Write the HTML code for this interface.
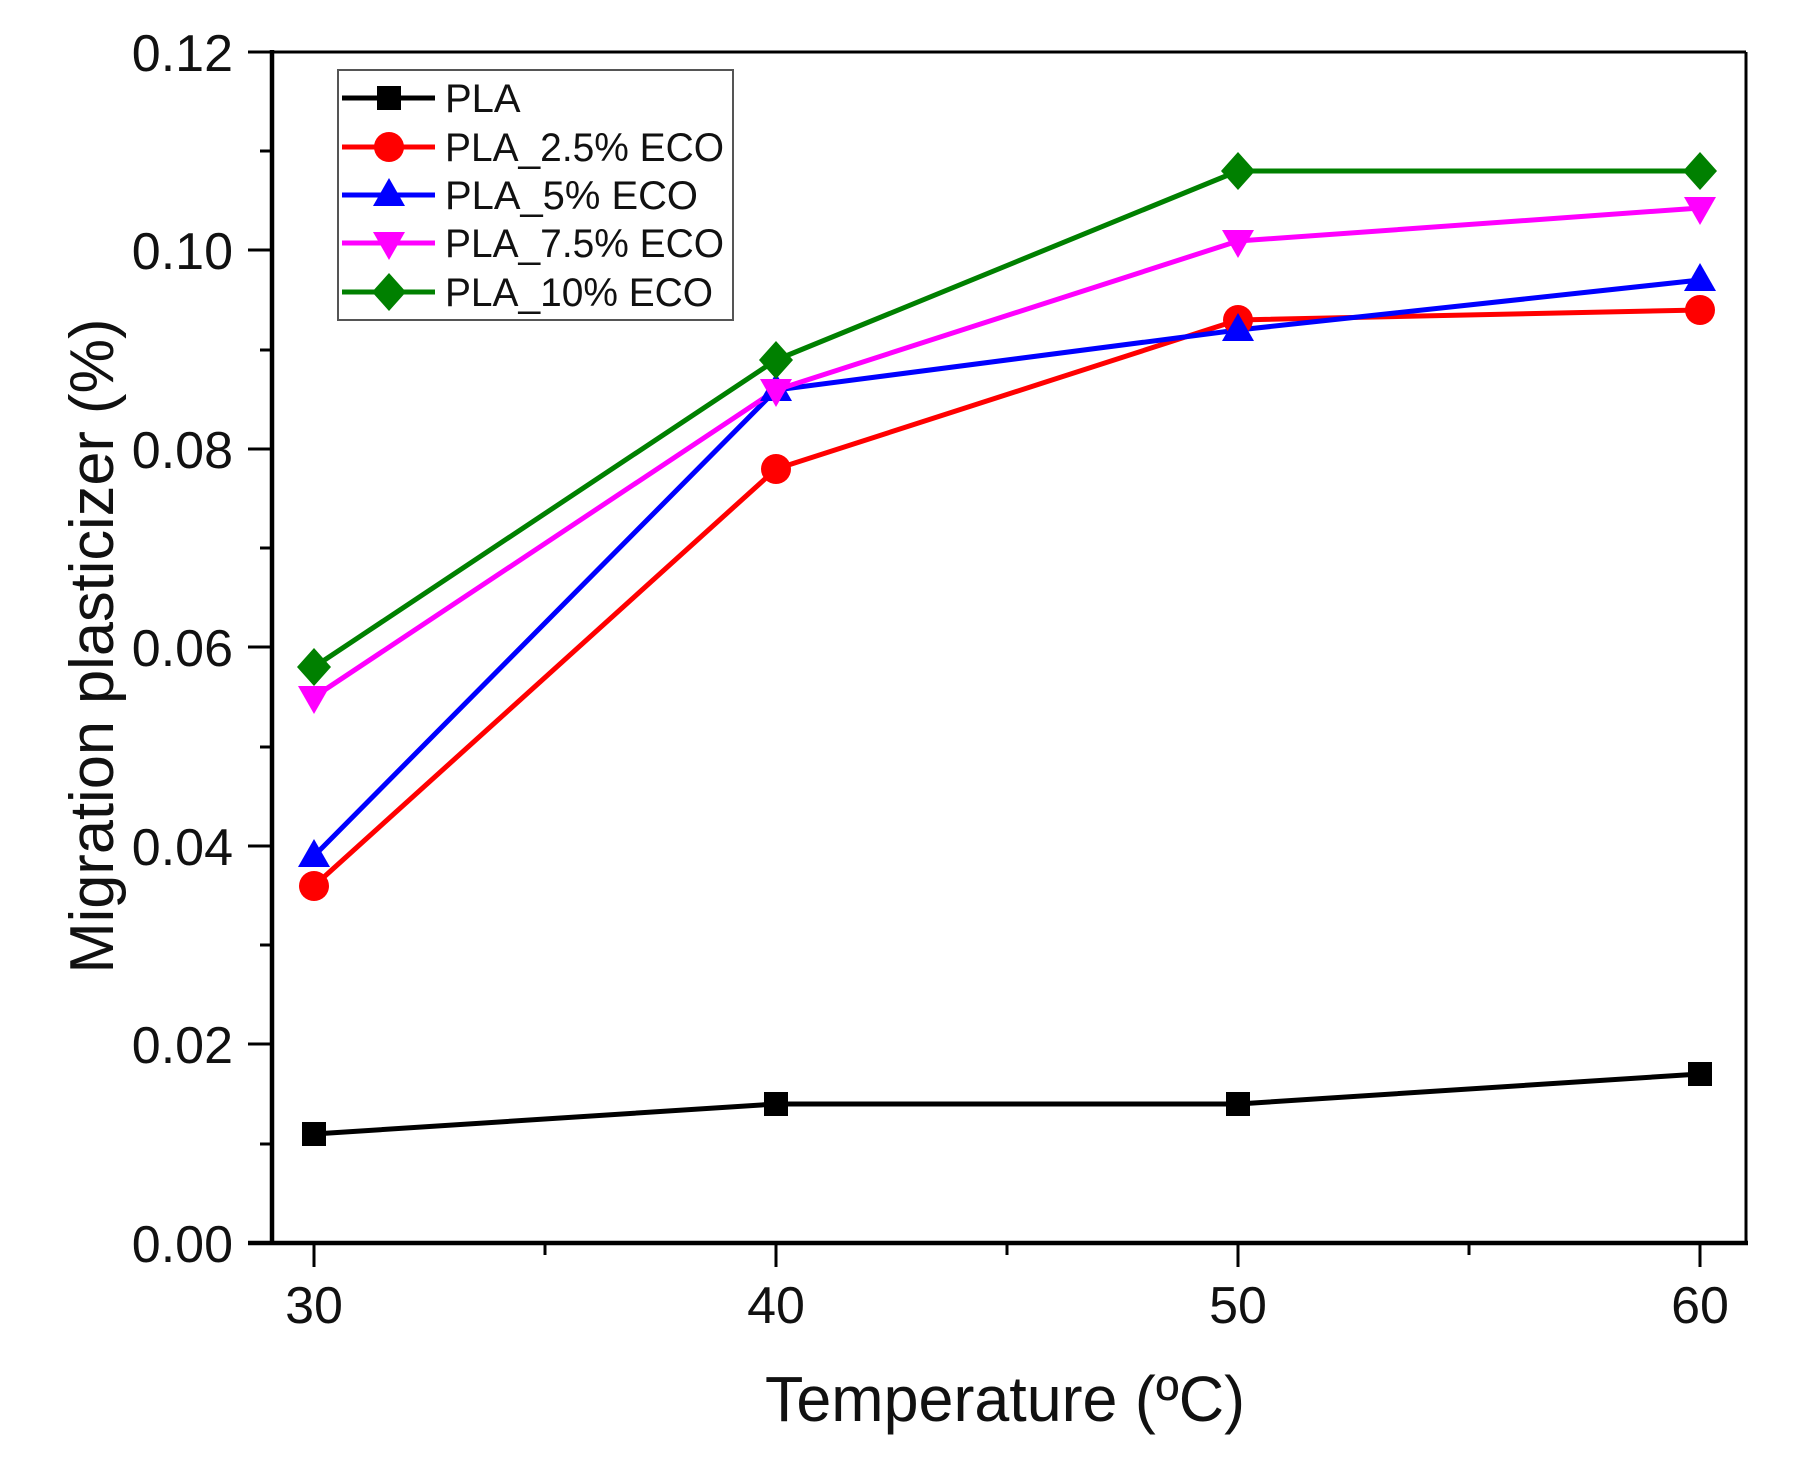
<!DOCTYPE html>
<html><head><meta charset="utf-8"><style>
html,body{margin:0;padding:0;background:#fff;}
svg{display:block;font-family:"Liberation Sans",Arial,sans-serif;}
</style></head><body>
<svg width="1819" height="1463" viewBox="0 0 1819 1463" xmlns="http://www.w3.org/2000/svg">
<rect width="1819" height="1463" fill="#fff"/>
<defs>
<rect id="sq" x="-12" y="-12" width="24" height="24" fill="#000"/>
<circle id="ci" r="15" fill="#f00"/>
<polygon id="tu" points="0,-17 16,11 -16,11" fill="#00f"/>
<polygon id="td" points="0,17 16,-11 -16,-11" fill="#f0f"/>
<polygon id="di" points="0,-19 17,0 0,19 -17,0" fill="#008000"/>
</defs>
<line x1="270" y1="52" x2="1746" y2="52" stroke="#000" stroke-width="3"/>
<line x1="1746" y1="52" x2="1746" y2="1243" stroke="#000" stroke-width="3"/>
<line x1="272" y1="50" x2="272" y2="1245" stroke="#000" stroke-width="4.5"/>
<line x1="248" y1="1243" x2="1748" y2="1243" stroke="#000" stroke-width="4.5"/>
<g stroke="#000" stroke-width="3">
<line x1="248" y1="52" x2="272" y2="52"/><line x1="260" y1="151" x2="272" y2="151"/>
<line x1="248" y1="250" x2="272" y2="250"/><line x1="260" y1="350" x2="272" y2="350"/>
<line x1="248" y1="449" x2="272" y2="449"/><line x1="260" y1="548" x2="272" y2="548"/>
<line x1="248" y1="647" x2="272" y2="647"/><line x1="260" y1="747" x2="272" y2="747"/>
<line x1="248" y1="846" x2="272" y2="846"/><line x1="260" y1="945" x2="272" y2="945"/>
<line x1="248" y1="1044" x2="272" y2="1044"/><line x1="260" y1="1144" x2="272" y2="1144"/>
<line x1="314" y1="1243" x2="314" y2="1267"/><line x1="545" y1="1243" x2="545" y2="1255"/>
<line x1="776" y1="1243" x2="776" y2="1267"/><line x1="1007" y1="1243" x2="1007" y2="1255"/>
<line x1="1238" y1="1243" x2="1238" y2="1267"/><line x1="1469" y1="1243" x2="1469" y2="1255"/>
<line x1="1700" y1="1243" x2="1700" y2="1267"/>
</g>
<g font-size="52" fill="#111" text-anchor="end">
<text x="233" y="71">0.12</text><text x="233" y="269">0.10</text>
<text x="233" y="468">0.08</text><text x="233" y="666">0.06</text>
<text x="233" y="865">0.04</text><text x="233" y="1063">0.02</text>
<text x="233" y="1262">0.00</text>
</g>
<g font-size="52" fill="#111" text-anchor="middle">
<text x="314" y="1323">30</text><text x="776" y="1323">40</text>
<text x="1238" y="1323">50</text><text x="1700" y="1323">60</text>
</g>
<text x="1005" y="1421" font-size="64" text-anchor="middle" textLength="480" lengthAdjust="spacingAndGlyphs" fill="#111">Temperature (ºC)</text>
<text transform="translate(113,646) rotate(-90)" font-size="62" text-anchor="middle" textLength="655" lengthAdjust="spacingAndGlyphs" fill="#111">Migration plasticizer (%)</text>
<g fill="none" stroke-width="5" stroke-linejoin="round">
<polyline stroke="#000" points="314,1134 776,1104 1238,1104 1700,1074"/>
<polyline stroke="#f00" points="314,886 776,469 1238,320 1700,310"/>
<polyline stroke="#00f" points="314,856 776,390 1238,330 1700,280"/>
<polyline stroke="#f0f" points="314,697 776,390 1238,241 1700,208"/>
<polyline stroke="#008000" points="314,667 776,360 1238,171 1700,171"/>
</g>
<use href="#sq" x="314" y="1134"/><use href="#sq" x="776" y="1104"/><use href="#sq" x="1238" y="1104"/><use href="#sq" x="1700" y="1074"/>
<use href="#ci" x="314" y="886"/><use href="#ci" x="776" y="469"/><use href="#ci" x="1238" y="320"/><use href="#ci" x="1700" y="310"/>
<use href="#tu" x="314" y="856"/><use href="#tu" x="776" y="390"/><use href="#tu" x="1238" y="330"/><use href="#tu" x="1700" y="280"/>
<use href="#td" x="314" y="697"/><use href="#td" x="776" y="390"/><use href="#td" x="1238" y="241"/><use href="#td" x="1700" y="208"/>
<use href="#di" x="314" y="667"/><use href="#di" x="776" y="360"/><use href="#di" x="1238" y="171"/><use href="#di" x="1700" y="171"/>
<rect x="338" y="70" width="395" height="250" fill="#fff" stroke="#555" stroke-width="2"/>
<g stroke-width="5">
<line x1="342" y1="98" x2="435" y2="98" stroke="#000"/>
<line x1="342" y1="147" x2="435" y2="147" stroke="#f00"/>
<line x1="342" y1="195" x2="435" y2="195" stroke="#00f"/>
<line x1="342" y1="243" x2="435" y2="243" stroke="#f0f"/>
<line x1="342" y1="292" x2="435" y2="292" stroke="#008000"/>
</g>
<use href="#sq" x="389" y="98"/><use href="#ci" x="389" y="147"/><use href="#tu" x="389" y="195"/><use href="#td" x="389" y="243"/><use href="#di" x="389" y="292"/>
<g font-size="40" fill="#111">
<text x="445" y="112">PLA</text>
<text x="445" y="161" textLength="279" lengthAdjust="spacingAndGlyphs">PLA_2.5% ECO</text>
<text x="445" y="209" textLength="253" lengthAdjust="spacingAndGlyphs">PLA_5% ECO</text>
<text x="445" y="257" textLength="279" lengthAdjust="spacingAndGlyphs">PLA_7.5% ECO</text>
<text x="445" y="306" textLength="268" lengthAdjust="spacingAndGlyphs">PLA_10% ECO</text>
</g>
</svg>
</body></html>
